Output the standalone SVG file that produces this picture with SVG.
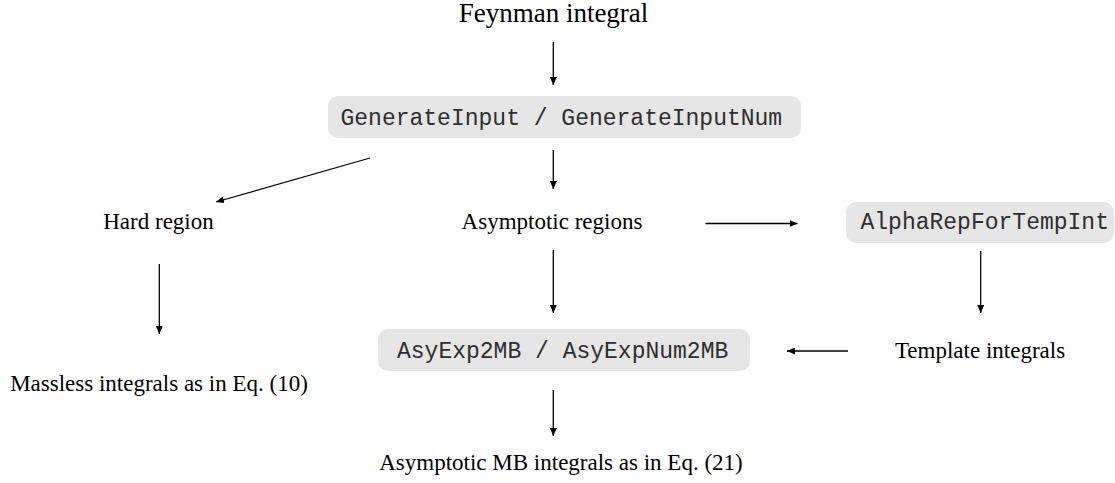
<svg xmlns="http://www.w3.org/2000/svg" width="1115" height="483" viewBox="0 0 1115 483">
<style>
.lbl{font-family:"Liberation Serif","Times New Roman",serif;font-size:23px;fill:#000;text-anchor:middle}
.ttl{font-family:"Liberation Serif","Times New Roman",serif;font-size:27px;fill:#000;text-anchor:middle}
.code{font-family:"Liberation Mono","Courier New",monospace;font-size:23px;fill:#2e2e2e}
.box{fill:#e6e6e6;stroke:none}
.edge{stroke:#000;stroke-width:1.3;fill:none;marker-end:url(#ah)}
</style>
<defs>
<marker id="ah" viewBox="0 0 8 7" refX="8" refY="3.5" markerWidth="8" markerHeight="7" markerUnits="userSpaceOnUse" orient="auto">
<path d="M0,0 L8,3.5 L0,7 Z" fill="#000"/>
</marker>
</defs>
<rect width="1115" height="483" fill="#fff"/>
<g id="feynman"><text class="ttl" x="553.5" y="22">Feynman integral</text></g>
<g id="generateinput"><rect class="box" x="328" y="96" width="473" height="42" rx="10"/><text class="code" x="340.5" y="124.5">GenerateInput / GenerateInputNum</text></g>
<g id="hard"><text class="lbl" x="158.5" y="229">Hard region</text></g>
<g id="asymptotic"><text class="lbl" x="552" y="229">Asymptotic regions</text></g>
<g id="alpharep"><rect class="box" x="846" y="202" width="268" height="41" rx="10"/><text class="code" x="860.5" y="229">AlphaRepForTempInt</text></g>
<g id="massless"><text class="lbl" x="159" y="391">Massless integrals as in Eq. (10)</text></g>
<g id="asyexp"><rect class="box" x="378" y="329" width="372" height="42" rx="10"/><text class="code" x="397" y="358">AsyExp2MB / AsyExpNum2MB</text></g>
<g id="template"><text class="lbl" x="980" y="358">Template integrals</text></g>
<g id="asymb"><text class="lbl" x="561" y="470">Asymptotic MB integrals as in Eq. (21)</text></g>
<g id="connectors">
<line class="edge" x1="553.3" y1="42" x2="553.3" y2="85"/>
<line class="edge" x1="553.3" y1="150" x2="553.3" y2="189"/>
<line class="edge" x1="370" y1="158" x2="216" y2="202"/>
<line class="edge" x1="159.3" y1="264" x2="159.3" y2="334"/>
<line class="edge" x1="553.3" y1="250" x2="553.3" y2="313"/>
<line class="edge" x1="705.5" y1="223.5" x2="797.5" y2="223.5"/>
<line class="edge" x1="980.7" y1="251" x2="980.7" y2="313"/>
<line class="edge" x1="848" y1="351" x2="787" y2="351"/>
<line class="edge" x1="553.3" y1="390" x2="553.3" y2="436"/>
</g>
</svg>
